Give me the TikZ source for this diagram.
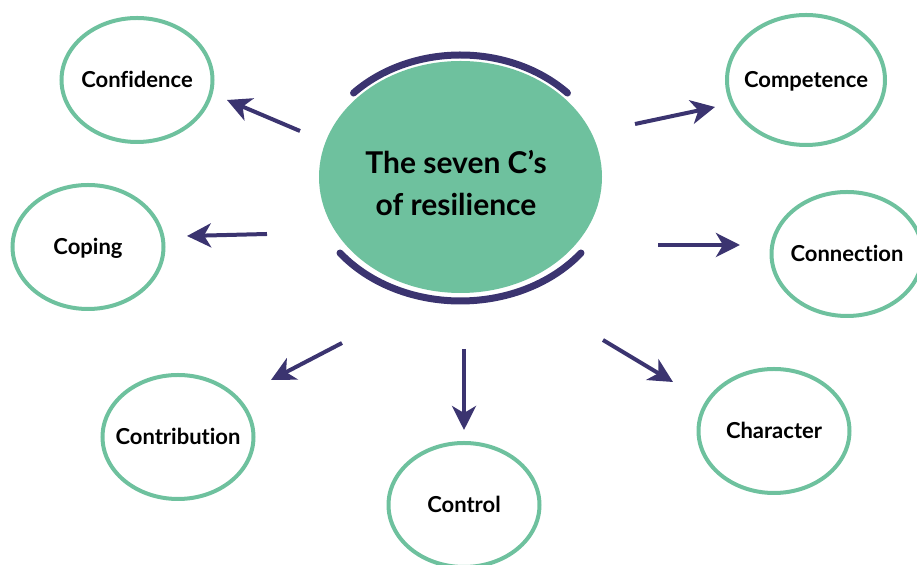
\documentclass[tikz,border=0pt]{standalone}
\usepackage{fontspec}
\setmainfont{Lato}[Ligatures=NoCommon]
\usetikzlibrary{arrows.meta,shapes.geometric}
\definecolor{mint}{RGB}{110,193,158}
\definecolor{navy}{RGB}{59,52,112}

\begin{document}
\begin{tikzpicture}[x=0.5pt,y=-0.5pt,>={Stealth[length=12pt,width=12pt,inset=3.5pt]},
    csub/.style={ellipse,draw=mint,line width=2pt,minimum width=75.5pt,minimum height=62pt,inner xsep=-15pt,inner ysep=0pt,
      font=\bfseries\fontsize{11}{13}\selectfont,text height=8pt,text depth=0pt},
    hub/.style={ellipse,fill=mint,minimum width=141.5pt,minimum height=116pt,inner sep=0pt},
    rim/.style={navy,line width=3.5pt,line cap=round},
    link/.style={->,navy,line width=2pt}]
  \useasboundingbox (0,0) rectangle (917,565);
  % centre
  \node[hub] (hub) at (460.5,177) {};
  \node[align=center,font=\bfseries\fontsize{15}{21}\selectfont] (title) at (456,183) {The seven C’s\\of resilience};
  \draw[rim] ([shift={(43.5:73.75pt and 61pt)}]hub.center) arc[start angle=43.5,end angle=136.5,x radius=73.75pt,y radius=61pt];
  \draw[rim] ([shift={(217.8:76.25pt and 62pt)}]hub.center) arc[start angle=217.8,end angle=322.2,x radius=76.25pt,y radius=62pt];
  % the seven C's
  \node[csub] (confidence) at (137,80) {Confidence};
  \node[csub,minimum width=79pt,minimum height=65pt] (competence) at (806,80) {Competence};
  \node[csub] (coping) at (88,247) {Coping};
  \node[csub] (connection) at (847,254) {Connection};
  \node[csub] (contribution) at (178,437) {Contribution};
  \node[csub] (control) at (464,505) {Control};
  \node[csub] (character) at (774,431) {Character};
  % arrow ends
  \coordinate (confA) at (300,131);  \coordinate (confB) at (227,100);
  \coordinate (compA) at (635,124);  \coordinate (compB) at (715,107);
  \coordinate (copA) at (267,234);   \coordinate (copB) at (187,236);
  \coordinate (connA) at (658,245);  \coordinate (connB) at (740,245);
  \coordinate (contrA) at (342,343); \coordinate (contrB) at (271,380);
  \coordinate (ctrlA) at (464,349);  \coordinate (ctrlB) at (464,430);
  \coordinate (charA) at (603,340);  \coordinate (charB) at (673,382);
  \draw[link] (confA) -- (confB);
  \draw[link] (compA) -- (compB);
  \draw[link] (copA) -- (copB);
  \draw[link] (connA) -- (connB);
  \draw[link] (contrA) -- (contrB);
  \draw[link] (ctrlA) -- (ctrlB);
  \draw[link] (charA) -- (charB);
\end{tikzpicture}
\end{document}
